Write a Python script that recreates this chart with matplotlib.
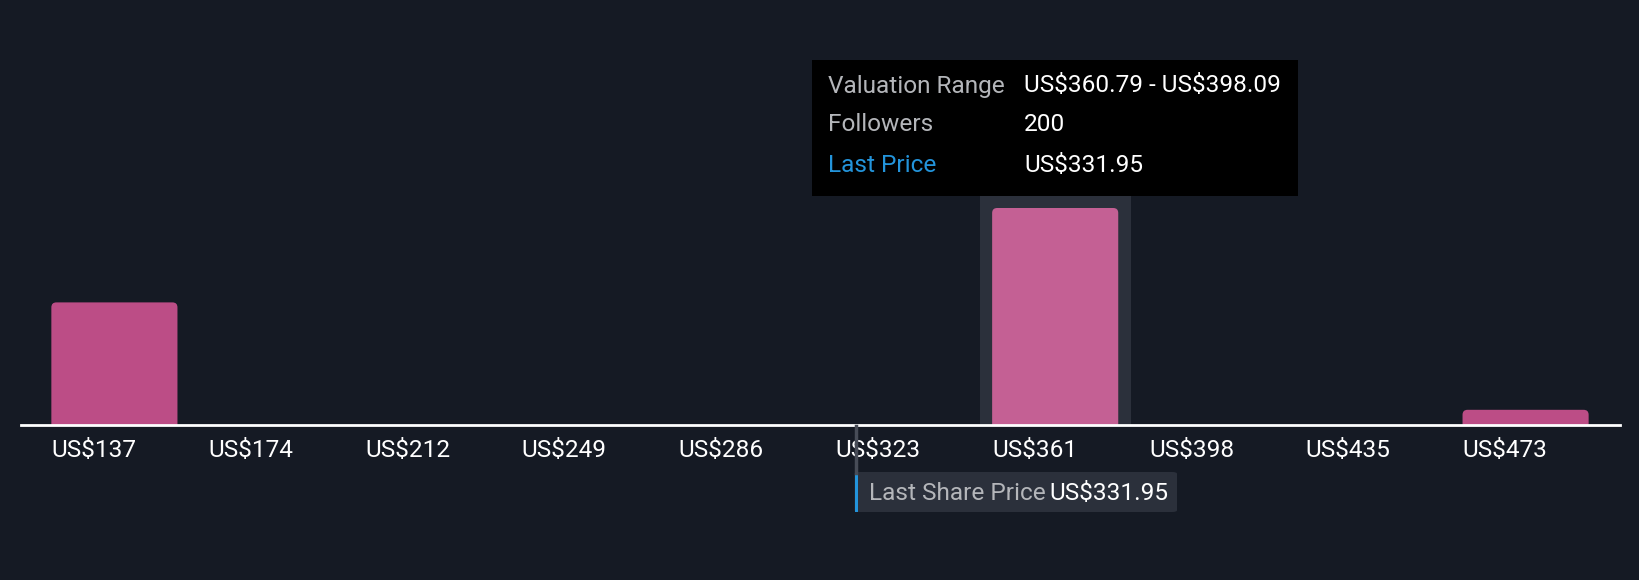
import matplotlib
matplotlib.use("Agg")
import matplotlib.pyplot as plt
from matplotlib.patches import FancyBboxPatch, Rectangle

plt.rcParams["font.family"] = ["Roboto", "DejaVu Sans"]
plt.rcParams["text.parse_math"] = False

# valuation bins (lower edge, US$) and number of followers per bin
bin_starts = [136.99, 174.29, 211.59, 248.89, 286.19, 323.49, 360.79, 398.09, 435.39, 472.69]
bin_width = 37.3
tick_labels = ["US$137", "US$174", "US$212", "US$249", "US$286",
               "US$323", "US$361", "US$398", "US$435", "US$473"]
followers = [113, 0, 0, 0, 0, 0, 200, 0, 0, 14]
highlight_idx = 6
last_price = 331.95

BG = "#151a24"
BAR_C = "#bc4d86"
BAR_HI = "#c46094"
HILITE = "#2b303b"
GREY_TXT = "#b4b6ba"
BLUE = "#2394db"
FS = 17.6

W, H = 1640, 580
fig = plt.figure(figsize=(W / 100, H / 100), dpi=100, facecolor=BG)


def fx(px):
    return px / W


def fy(py):
    return 1 - py / H


# axes: x from 21px to 1620px, baseline at y=425px, top at y=0
ax_l, ax_r, base_y = 21, 1620, 425
ax = fig.add_axes([fx(ax_l), fy(base_y), (ax_r - ax_l) / W, base_y / H])
ax.set_facecolor(BG)
xmin, xmax = 133.42, 513.8
ymax = 391.7
ax.set_xlim(xmin, xmax)
ax.set_ylim(0, ymax)

px_per_x = (ax_r - ax_l) / (xmax - xmin)
px_per_y = base_y / ymax
aspect = px_per_x / px_per_y

bar_w = 30.0
for i, (s, v) in enumerate(zip(bin_starts, followers)):
    c = s + bin_width / 2
    if i == highlight_idx:
        hw = 35.9
        top_px = 196
        ax.add_patch(Rectangle((c - hw / 2, 0), hw, (base_y - top_px) / px_per_y,
                               facecolor=HILITE, edgecolor="none", zorder=1))
    if v <= 0:
        continue
    r = 5 / px_per_x
    ax.add_patch(FancyBboxPatch((c - bar_w / 2, -20), bar_w, v + 20,
                                boxstyle=f"round,pad=0,rounding_size={r}",
                                mutation_aspect=aspect,
                                facecolor=BAR_HI if i == highlight_idx else BAR_C,
                                edgecolor="none", zorder=2))

for sp in ("top", "right", "left"):
    ax.spines[sp].set_visible(False)
ax.spines["bottom"].set_color("white")
ax.spines["bottom"].set_linewidth(2)
ax.spines["bottom"].set_zorder(5)
ax.set_yticks([])
ax.set_xticks([s + bin_width / 2 - bar_w / 2 for s in bin_starts])
ax.set_xticklabels(tick_labels, ha="left")
ax.tick_params(axis="x", length=0, pad=10, labelsize=FS, labelcolor="white")

# last share price marker
lp_px = ax_l + (last_price - xmin) * px_per_x
fig.add_artist(plt.Line2D([fx(lp_px), fx(lp_px)], [fy(base_y + 1), fy(473)],
                          color="#474c57", lw=2.5))
fig.add_artist(FancyBboxPatch((fx(lp_px - 1), fy(512)), fx(1177 - lp_px + 1), (512 - 472) / H,
                              boxstyle="round,pad=0,rounding_size=0.003",
                              facecolor=HILITE, edgecolor="none"))
fig.add_artist(Rectangle((fx(lp_px - 1), fy(512)), fx(3.5), (512 - 472) / H,
                         facecolor=BLUE, edgecolor="none"))
fig.text(fx(869), fy(493), "Last Share Price", color=GREY_TXT, fontsize=FS,
         va="center", ha="left")
fig.text(fx(1049), fy(493), f"US${last_price:.2f}", color="white", fontsize=FS,
         va="center", ha="left")

# tooltip
fig.add_artist(Rectangle((fx(812), fy(196)), fx(1298 - 812), (196 - 60) / H,
                         facecolor="black", edgecolor="none"))
lo, hi = bin_starts[highlight_idx], bin_starts[highlight_idx] + bin_width
rows = [("Valuation Range", f"US${lo:.2f} - US${hi:.2f}", GREY_TXT),
        ("Followers", f"{followers[highlight_idx]}", GREY_TXT),
        ("Last Price", f"US${last_price:.2f}", BLUE)]
for (lab, val, col), y in zip(rows, [86, 125, 165]):
    fig.text(fx(828), fy(y), lab, color=col, fontsize=FS, va="center", ha="left")
    fig.text(fx(1024), fy(y), val, color="white", fontsize=FS, va="center", ha="left")

fig.savefig("out.png", dpi=100, facecolor=BG)
